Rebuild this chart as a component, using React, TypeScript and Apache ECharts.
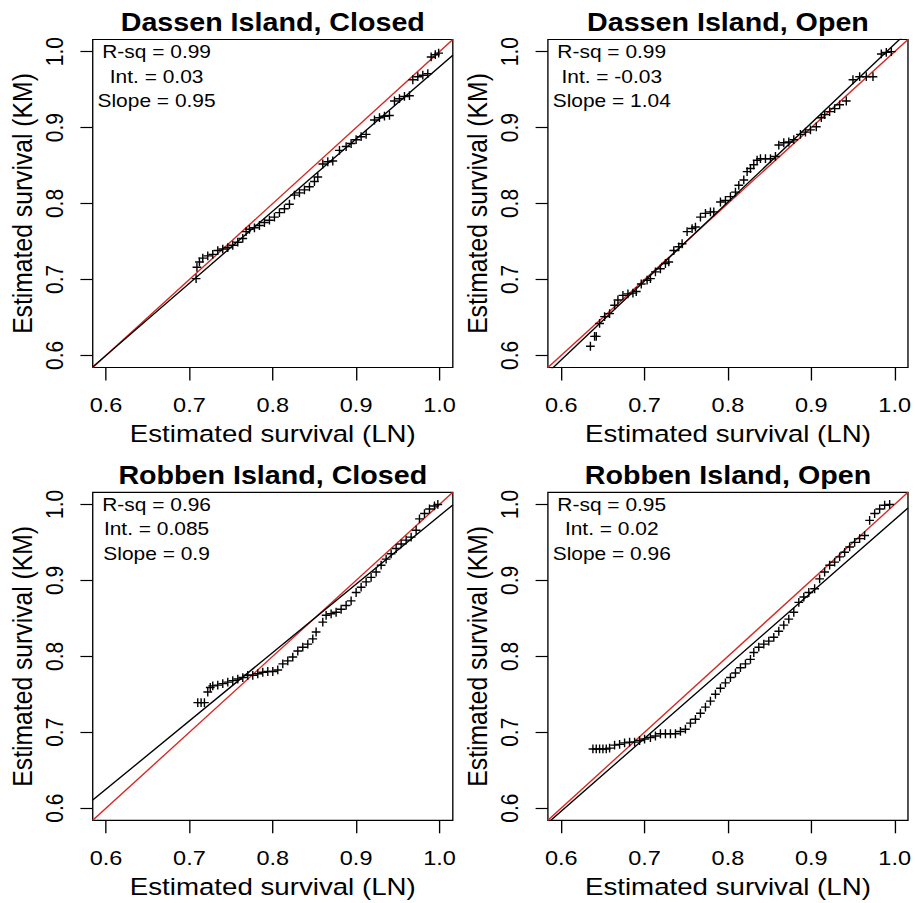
import React, { useEffect, useRef } from "react";
import * as echarts from "echarts";

// ---- data ----
const panelTitles = [
  "Dassen Island, Closed",
  "Dassen Island, Open",
  "Robben Island, Closed",
  "Robben Island, Open",
];
const rsqValues = ["0.99", "0.99", "0.96", "0.95"];
const intercepts = [0.03, -0.03, 0.085, 0.02];
const slopes = [0.95, 1.04, 0.9, 0.96];
const tickValues = [0.6, 0.7, 0.8, 0.9, 1.0];
const xAxisTitle = "Estimated survival (LN)";
const yAxisTitle = "Estimated survival (KM)";

const dassenClosedLN = [0.708, 0.709, 0.712, 0.716, 0.722, 0.728, 0.734, 0.74, 0.746, 0.752, 0.758, 0.764, 0.768, 0.772, 0.778, 0.784, 0.79, 0.796, 0.802, 0.808, 0.814, 0.82, 0.826, 0.832, 0.838, 0.844, 0.85, 0.854, 0.86, 0.866, 0.872, 0.88, 0.888, 0.894, 0.9, 0.906, 0.912, 0.922, 0.928, 0.934, 0.94, 0.946, 0.952, 0.958, 0.964, 0.968, 0.974, 0.98, 0.986, 0.99, 0.995, 0.999];
const dassenClosedKM = [0.701, 0.716, 0.723, 0.728, 0.731, 0.733, 0.738, 0.74, 0.742, 0.745, 0.749, 0.754, 0.763, 0.766, 0.768, 0.771, 0.775, 0.778, 0.782, 0.788, 0.793, 0.799, 0.811, 0.814, 0.818, 0.822, 0.829, 0.835, 0.852, 0.855, 0.856, 0.87, 0.875, 0.879, 0.884, 0.888, 0.891, 0.91, 0.913, 0.915, 0.916, 0.935, 0.938, 0.941, 0.942, 0.963, 0.967, 0.969, 0.971, 0.993, 0.996, 0.998];

const dassenOpenLN = [0.635, 0.64, 0.642, 0.646, 0.652, 0.658, 0.664, 0.668, 0.674, 0.68, 0.686, 0.69, 0.696, 0.703, 0.707, 0.713, 0.719, 0.725, 0.729, 0.735, 0.741, 0.745, 0.751, 0.757, 0.761, 0.767, 0.773, 0.779, 0.783, 0.791, 0.797, 0.803, 0.809, 0.813, 0.819, 0.823, 0.827, 0.831, 0.835, 0.839, 0.845, 0.851, 0.857, 0.861, 0.867, 0.873, 0.879, 0.887, 0.893, 0.899, 0.906, 0.912, 0.916, 0.922, 0.928, 0.934, 0.942, 0.95, 0.958, 0.966, 0.974, 0.984, 0.99, 0.996];
const dassenOpenKM = [0.612, 0.625, 0.625, 0.642, 0.651, 0.655, 0.666, 0.673, 0.679, 0.681, 0.682, 0.684, 0.694, 0.699, 0.701, 0.71, 0.714, 0.721, 0.723, 0.738, 0.743, 0.747, 0.763, 0.767, 0.769, 0.782, 0.787, 0.789, 0.789, 0.802, 0.804, 0.809, 0.815, 0.824, 0.831, 0.842, 0.846, 0.851, 0.857, 0.859, 0.859, 0.859, 0.862, 0.877, 0.88, 0.881, 0.884, 0.891, 0.894, 0.897, 0.901, 0.913, 0.917, 0.921, 0.925, 0.93, 0.935, 0.963, 0.967, 0.967, 0.967, 0.997, 0.999, 1.0];

const robbenClosedLN = [0.71, 0.714, 0.718, 0.722, 0.725, 0.728, 0.734, 0.74, 0.746, 0.752, 0.758, 0.764, 0.77, 0.776, 0.782, 0.788, 0.794, 0.8, 0.806, 0.812, 0.818, 0.824, 0.83, 0.836, 0.842, 0.848, 0.852, 0.86, 0.864, 0.87, 0.876, 0.882, 0.888, 0.894, 0.9, 0.906, 0.912, 0.918, 0.924, 0.93, 0.936, 0.942, 0.948, 0.954, 0.96, 0.966, 0.972, 0.976, 0.982, 0.988, 0.994, 0.998];
const robbenClosedKM = [0.739, 0.739, 0.739, 0.753, 0.759, 0.761, 0.762, 0.764, 0.766, 0.768, 0.77, 0.772, 0.775, 0.775, 0.777, 0.779, 0.78, 0.78, 0.782, 0.79, 0.794, 0.799, 0.807, 0.812, 0.816, 0.823, 0.832, 0.845, 0.854, 0.856, 0.858, 0.862, 0.867, 0.873, 0.884, 0.891, 0.898, 0.904, 0.911, 0.92, 0.928, 0.935, 0.942, 0.948, 0.953, 0.957, 0.966, 0.981, 0.988, 0.994, 0.998, 1.0];

const robbenOpenLN = [0.638, 0.642, 0.646, 0.65, 0.654, 0.658, 0.664, 0.67, 0.676, 0.682, 0.688, 0.694, 0.7, 0.707, 0.713, 0.719, 0.725, 0.731, 0.737, 0.743, 0.749, 0.755, 0.761, 0.767, 0.773, 0.779, 0.785, 0.791, 0.797, 0.803, 0.809, 0.815, 0.821, 0.827, 0.831, 0.837, 0.843, 0.849, 0.855, 0.861, 0.867, 0.873, 0.879, 0.885, 0.891, 0.897, 0.904, 0.91, 0.916, 0.922, 0.928, 0.934, 0.94, 0.946, 0.952, 0.958, 0.964, 0.97, 0.976, 0.982, 0.988, 0.994];
const robbenOpenKM = [0.678, 0.678, 0.678, 0.678, 0.678, 0.679, 0.683, 0.684, 0.686, 0.687, 0.687, 0.689, 0.691, 0.693, 0.695, 0.698, 0.698, 0.698, 0.698, 0.701, 0.704, 0.712, 0.717, 0.725, 0.733, 0.741, 0.75, 0.758, 0.765, 0.772, 0.778, 0.785, 0.79, 0.796, 0.805, 0.812, 0.816, 0.82, 0.825, 0.833, 0.841, 0.849, 0.858, 0.871, 0.878, 0.884, 0.889, 0.902, 0.911, 0.92, 0.924, 0.931, 0.937, 0.944, 0.95, 0.955, 0.959, 0.979, 0.988, 0.994, 0.999, 1.0];

const panelLN = [dassenClosedLN, dassenOpenLN, robbenClosedLN, robbenOpenLN];
const panelKM = [dassenClosedKM, dassenOpenKM, robbenClosedKM, robbenOpenKM];

// ---- layout (chart drawn at 817 px wide, stretched horizontally to 915) ----
const STRETCH = 1.12;
const W = 817;
const H = 903;
const AX_MIN = 0.584;
const AX_MAX = 1.016;
const FONT = "'Liberation Sans', Arial, Helvetica, sans-serif";
const gridLefts = [82.8, 489.2, 82.8, 489.2];
const gridTops = [39.5, 39.5, 492.3, 492.3];
const GW = 321.5;
const GH = 328;
const PLUS = "path://M0,4.2H10V5.8H0Z M4.2,0H5.8V10H4.2Z";

export default function App() {
  const ref = useRef<HTMLDivElement>(null);
  useEffect(() => {
    if (!ref.current) return;
    const chart = echarts.init(ref.current, null, { renderer: "svg", width: W, height: H });

    const grid = gridLefts.map((l, i) => ({
      left: l,
      top: gridTops[i],
      width: GW,
      height: GH,
      show: true,
      borderColor: "#000",
      borderWidth: 1.2,
      backgroundColor: "transparent",
    }));

    const fmt = (v: number) => v.toFixed(1);
    const xAxis = gridLefts.map((_, i) => ({
      type: "value",
      gridIndex: i,
      min: AX_MIN,
      max: AX_MAX,
      axisLine: { show: false },
      splitLine: { show: false },
      axisTick: { show: true, customValues: tickValues, length: 13, lineStyle: { color: "#000", width: 1.2 } },
      axisLabel: { customValues: tickValues, formatter: fmt, margin: 27, fontSize: 21, color: "#000", fontFamily: FONT },
      name: xAxisTitle,
      nameLocation: "middle",
      nameGap: 54,
      nameTextStyle: { fontSize: 24.7, color: "#000", fontFamily: FONT },
    }));
    const yAxis = gridLefts.map((_, i) => ({
      type: "value",
      gridIndex: i,
      min: AX_MIN,
      max: AX_MAX,
      axisLine: { show: false },
      splitLine: { show: false },
      axisTick: { show: true, customValues: tickValues, length: 11, lineStyle: { color: "#000", width: 1.2 } },
      axisLabel: { customValues: tickValues, formatter: fmt, rotate: 90, margin: 23, fontSize: 21, color: "#000", fontFamily: FONT },
      name: yAxisTitle,
      nameLocation: "middle",
      nameGap: 50,
      nameRotate: 90,
      nameTextStyle: { fontSize: 24.7, color: "#000", fontFamily: FONT },
    }));

    const series: any[] = [];
    panelLN.forEach((ln, i) => {
      series.push({
        type: "line",
        xAxisIndex: i,
        yAxisIndex: i,
        data: [[AX_MIN, AX_MIN], [AX_MAX, AX_MAX]],
        showSymbol: false,
        clip: true,
        lineStyle: { color: "#d42a22", width: 1.3 },
        z: 2,
      });
      series.push({
        type: "line",
        xAxisIndex: i,
        yAxisIndex: i,
        data: [
          [AX_MIN, intercepts[i] + slopes[i] * AX_MIN],
          [AX_MAX, intercepts[i] + slopes[i] * AX_MAX],
        ],
        showSymbol: false,
        clip: true,
        lineStyle: { color: "#000", width: 1.3 },
        z: 2,
      });
      series.push({
        type: "scatter",
        xAxisIndex: i,
        yAxisIndex: i,
        data: ln.map((x, j) => [x, panelKM[i][j]]),
        symbol: PLUS,
        symbolSize: [7.8, 8.8],
        itemStyle: { color: "#000", opacity: 1 },
        clip: true,
        z: 3,
      });
    });

    const graphic: any[] = [];
    gridLefts.forEach((l, i) => {
      const t = gridTops[i];
      graphic.push({
        type: "text",
        x: l + GW / 2,
        y: t - 17.5,
        style: {
          text: panelTitles[i],
          fontSize: 25.6,
          fontWeight: "bold",
          fontFamily: FONT,
          fill: "#000",
          align: "center",
          verticalAlign: "middle",
          textAlign: "center",
          textVerticalAlign: "middle",
        },
      });
      const lines = [
        `R-sq = ${rsqValues[i]}`,
        `Int. = ${intercepts[i]}`,
        `Slope = ${slopes[i]}`,
      ];
      lines.forEach((txt, k) => {
        graphic.push({
          type: "text",
          x: l + 57,
          y: t + 12.4 + k * 24.2,
          style: {
            text: txt,
            fontSize: 18.7,
            fontFamily: FONT,
            fill: "#000",
            align: "center",
            verticalAlign: "middle",
            textAlign: "center",
            textVerticalAlign: "middle",
          },
        });
      });
    });

    chart.setOption({
      animation: false,
      backgroundColor: "#fff",
      grid,
      xAxis,
      yAxis,
      series,
      graphic,
    } as any);
    return () => chart.dispose();
  }, []);

  return (
    <div style={{ position: "absolute", left: 0, top: 0, width: 915, height: 903, overflow: "hidden", background: "#fff" }}>
      <div
        ref={ref}
        style={{ width: W, height: H, transform: `scaleX(${STRETCH})`, transformOrigin: "0 0" }}
      />
    </div>
  );
}
